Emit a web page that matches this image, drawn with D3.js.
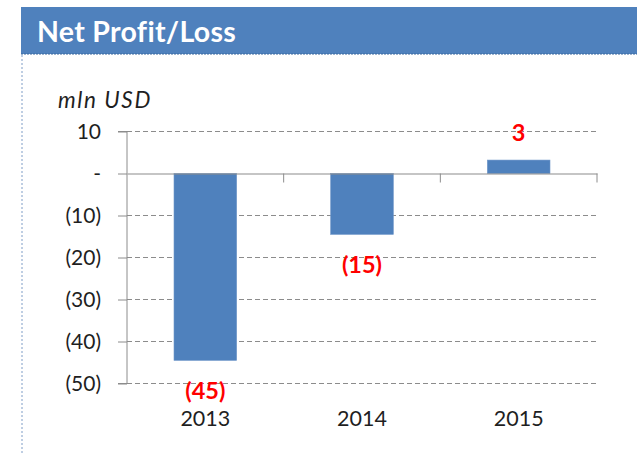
<!DOCTYPE html>
<html><head><meta charset="utf-8">
<script src="https://cdn.jsdelivr.net/npm/d3@7"></script>
<style>body{margin:0;background:#fff}svg{display:block}</style>
</head><body>
<script>
const title = "Net Profit/Loss";
const unitLabel = "mln USD";
const categories = ["2013", "2014", "2015"];
const values = [-44.5, -14.5, 3.2];
const dataLabels = ["(45)", "(15)", "3"];
const yTicks = [10, 0, -10, -20, -30, -40, -50];
const yTickLabels = ["10", "-", "(10)", "(20)", "(30)", "(40)", "(50)"];

const W = 637, H = 455;
const font = "Lato, 'Open Sans', sans-serif";
const svg = d3.select("body").append("svg").attr("width", W).attr("height", H);

// header band
svg.append("rect").attr("x", 21).attr("y", 7).attr("width", W - 21).attr("height", 47).attr("fill", "#4f81bd");
svg.append("line").attr("x1", 21).attr("x2", W).attr("y1", 54).attr("y2", 54)
  .attr("stroke", "#3a689f").attr("stroke-width", 1).attr("stroke-dasharray", "2,1");
svg.append("line").attr("x1", 22).attr("x2", 22).attr("y1", 55).attr("y2", H)
  .attr("stroke", "#7f9dc6").attr("stroke-width", 1).attr("stroke-dasharray", "2,2");
svg.append("text").attr("x", 37).attr("y", 42).text(title)
  .attr("fill", "#fff").attr("font-family", font).attr("font-weight", "bold").attr("font-size", 28.5)
  .attr("letter-spacing", 0.3);

const x0 = 127, x1 = 597;
const x = d3.scaleBand().domain(categories).range([x0, x1]).paddingInner(0.6).paddingOuter(0.3);
const xb = d3.scaleBand().domain(categories).range([x0, x1]);
const y = d3.scaleLinear().domain([-50, 10]).range([383.5, 131.5]);

// gridlines
svg.append("g").selectAll("line").data(yTicks.filter(d => d !== 0)).join("line")
  .attr("x1", x0).attr("x2", x1).attr("y1", d => y(d)).attr("y2", d => y(d))
  .attr("stroke", "#8c8c8c").attr("stroke-dasharray", "5,3").attr("stroke-width", 1);

// y axis
const yAxis = d3.axisLeft(y).tickValues(yTicks).tickSize(9).tickPadding(17)
  .tickFormat((d, i) => yTickLabels[i]);
const gy = svg.append("g").attr("transform", `translate(${x0},0)`).call(yAxis);
gy.select(".domain").attr("stroke", "#8c8c8c").attr("d", `M-9,${y(10)}H0V${y(-50)}H-9`);
gy.selectAll(".tick line").attr("stroke", "#8c8c8c");
gy.selectAll(".tick text").attr("fill", "#1f1f1f").attr("font-family", font).attr("font-size", 21);

// bars
svg.append("g").selectAll("rect").data(values).join("rect")
  .attr("x", (d, i) => x(categories[i]))
  .attr("width", x.bandwidth())
  .attr("y", d => y(Math.max(0, d)))
  .attr("height", d => Math.abs(y(d) - y(0)))
  .attr("fill", "#4f81bd").attr("stroke", "#6f97c9").attr("stroke-width", 0.6);

// zero axis with category ticks
const xAxis = d3.axisBottom(xb).tickSize(0).tickFormat("");
const gx = svg.append("g").attr("transform", `translate(0,${y(0)})`).call(xAxis);
gx.select(".domain").attr("stroke", "#8c8c8c").attr("stroke-width", 1.2);
gx.selectAll(".tick").remove();
gx.selectAll("line.bound").data(categories).join("line").attr("class", "bound")
  .attr("x1", d => xb(d) + xb.bandwidth()).attr("x2", d => xb(d) + xb.bandwidth())
  .attr("y1", 0).attr("y2", 9).attr("stroke", "#8c8c8c");

// category labels
svg.append("g").selectAll("text").data(categories).join("text")
  .attr("x", d => xb(d) + xb.bandwidth() / 2).attr("y", 426)
  .attr("text-anchor", "middle").attr("fill", "#1f1f1f")
  .attr("font-family", font).attr("font-size", 21.5).text(d => d);

// data labels
svg.append("g").selectAll("text").data(values).join("text")
  .attr("x", (d, i) => xb(categories[i]) + xb.bandwidth() / 2)
  .attr("y", d => d < 0 ? y(d) + 30 : y(d) - 27)
  .attr("dy", "0.35em")
  .attr("text-anchor", "middle").attr("fill", "#ff0000").attr("font-weight", "bold")
  .attr("font-family", font).attr("font-size", 23.5).text((d, i) => dataLabels[i]);

// unit label
svg.append("text").attr("x", 58).attr("y", 108).text(unitLabel)
  .attr("font-family", font).attr("font-style", "italic").attr("font-size", 22.5)
  .attr("letter-spacing", 1.6).attr("fill", "#1f1f1f");
</script>
</body></html>
